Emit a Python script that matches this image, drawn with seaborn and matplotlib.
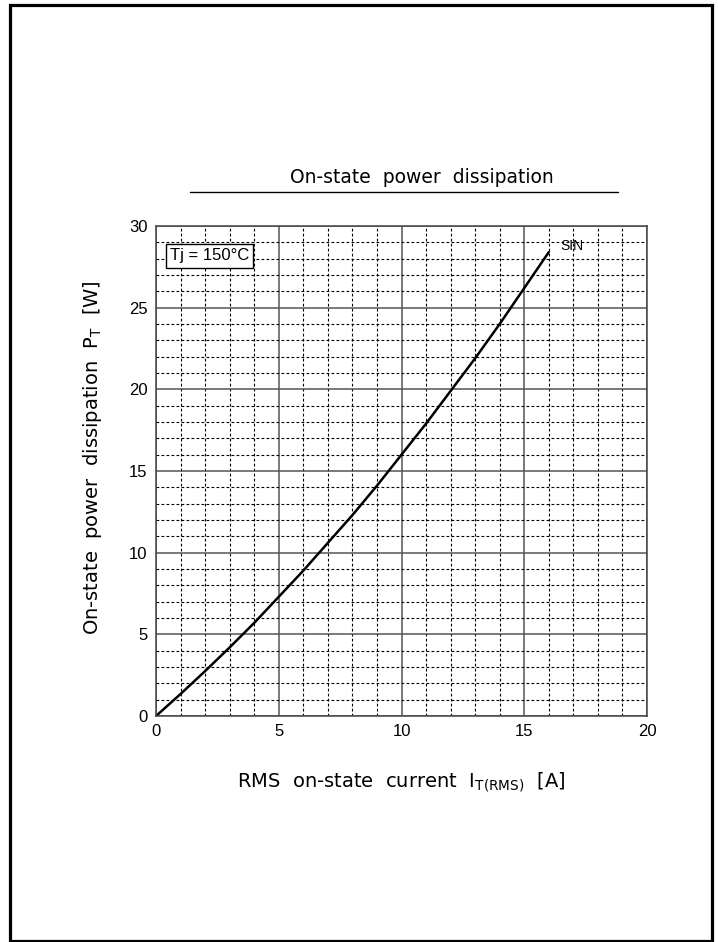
import matplotlib
matplotlib.use("Agg")
import matplotlib.pyplot as plt
from matplotlib.patches import Rectangle
from matplotlib.lines import Line2D
from matplotlib.ticker import MultipleLocator
import seaborn as sns
import pandas as pd

# values (sine wave, Tj = 150 C)
current_rms = [0, 1, 2, 3, 4, 5, 6, 7, 8, 9, 10, 11, 12, 13, 14, 15, 16]
power_diss = [0, 1.35, 2.75, 4.2, 5.7, 7.3, 8.9, 10.6, 12.3, 14.1, 16.0,
              17.9, 19.9, 21.9, 24.0, 26.2, 28.4]
x_ticks = [0, 5, 10, 15, 20]
y_ticks = [0, 5, 10, 15, 20, 25, 30]

sns.set_theme(style="white")
plt.rcParams['font.family'] = ['Liberation Sans', 'DejaVu Sans']
plt.rcParams['text.color'] = 'black'
wide = ['DejaVu Sans']

df = pd.DataFrame({'I': current_rms, 'P': power_diss})

fig = plt.figure(figsize=(7.18, 9.42), dpi=100)
ax = fig.add_axes([0.2173, 0.2399, 0.6838, 0.5202])

#page frame
fig.patches.append(Rectangle((9.5 / 718, 1.5 / 942), 702 / 718, 936 / 942,
                             transform=fig.transFigure, fill=False,
                             edgecolor='black', linewidth=2.3))

#grid: solid every 5, dashed every 1
ax.set_xlim(0, 20)
ax.set_ylim(0, 30)
ax.set_xticks(x_ticks)
ax.set_yticks(y_ticks)
ax.xaxis.set_minor_locator(MultipleLocator(1))
ax.yaxis.set_minor_locator(MultipleLocator(1))
ax.grid(which='major', color='#555555', linestyle='-', linewidth=1.1)
ax.grid(which='minor', color='black', linestyle=(0, (2.5, 2)), linewidth=0.8)
ax.set_axisbelow(True)
for s in ax.spines.values():
    s.set_color('#444444')
    s.set_linewidth(1.1)
ax.tick_params(which='both', length=0, labelsize=12, colors='black', pad=6)

sns.lineplot(data=df, x='I', y='P', ax=ax, color='black', linewidth=1.8)

ax.set_xlabel(r'RMS  on-state  current  $\mathregular{I_{T(RMS)}}$  [A]',
              family=wide, fontsize=14, color='black', va='center')
ax.xaxis.set_label_coords(0.5, -0.136)
ax.set_ylabel(r'On-state  power  dissipation  $\mathregular{P_T}$  [W]',
              family=wide, fontsize=14, color='black', va='center')
ax.yaxis.set_label_coords(-0.130, 0.5265)

ax.text(16.46, 28.75, 'SIN', fontsize=10, va='center', ha='left', color='black')
ax.text(0.57, 28.17, 'Tj = 150\u00b0C', fontsize=12, va='center', ha='left', color='black',
        bbox=dict(boxstyle='square,pad=0.25', facecolor='white', edgecolor='black', linewidth=1))

fig.text(422 / 718, 1 - 177 / 942, 'On-state  power  dissipation', family=wide,
         fontsize=13.5, ha='center', va='center', color='black')
fig.lines.append(Line2D([190 / 718, 618 / 718], [1 - 192 / 942, 1 - 192 / 942],
                        transform=fig.transFigure, color='black', linewidth=1))

fig.savefig('out.png', dpi=100)
